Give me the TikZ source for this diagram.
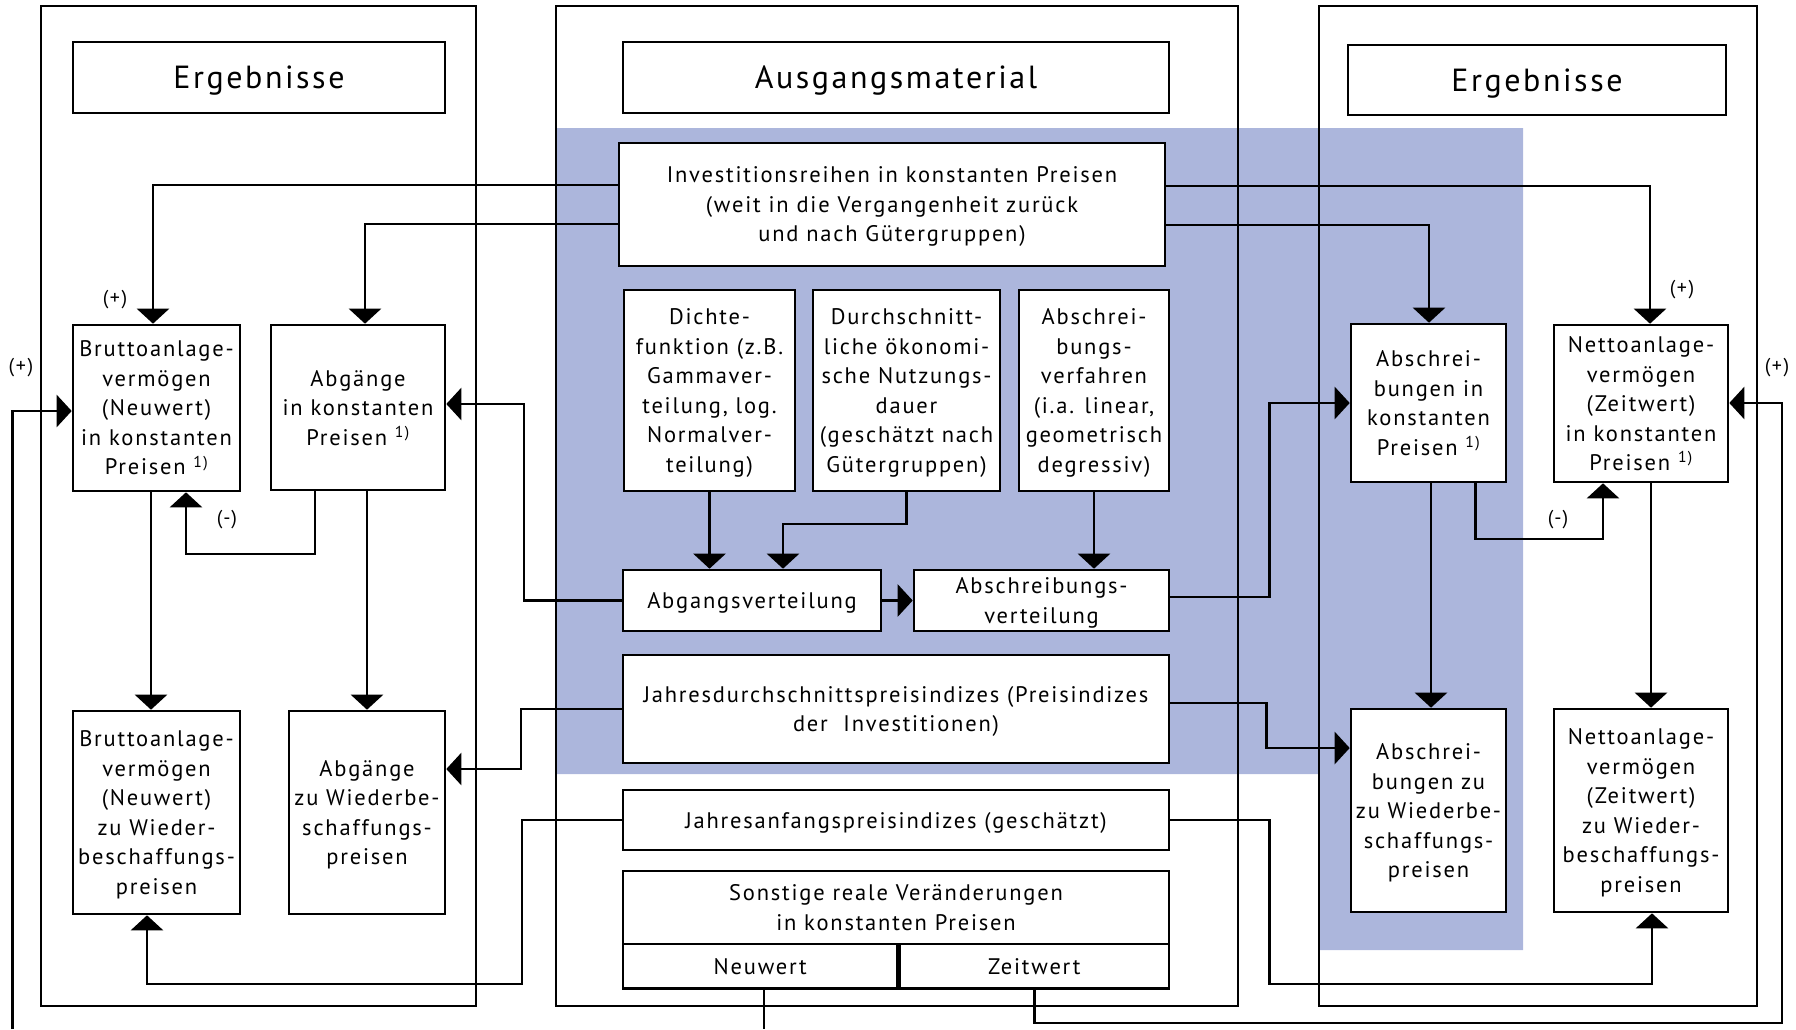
\documentclass[tikz,border=0pt]{standalone}
\usepackage{fontspec}
\setmainfont{PT Sans}[LetterSpace=8]
\usetikzlibrary{arrows.meta}
\definecolor{hatchblue}{RGB}{172,182,220}
\pgfdeclarelayer{bg}
\pgfdeclarelayer{conn}
\pgfsetlayers{bg,conn,main}
\begin{document}
\begin{tikzpicture}[x=1pt,y=-1pt,
  bx/.style={draw, line width=2.6pt, fill=white, align=center, inner sep=0pt, text depth=0pt, font=\fontsize{22.5}{29.5}\selectfont},
  ttl/.style={bx, font=\fontsize{32}{38}\selectfont},
  panel/.style={draw, line width=2.6pt, inner sep=0pt},
  con/.style={line width=2.6pt},
  arr/.style={con, -{Triangle[length=15pt,width=32pt]}},
  lbl/.style={font=\fontsize{20}{24}\selectfont, inner sep=0pt}
]
\useasboundingbox (0,0) rectangle (1796,1029);

% boxes
\node[ttl, minimum width=372, minimum height=71] (tl) at (259,77.5) {Ergebnisse};
\node[ttl, minimum width=546, minimum height=71] (tm) at (896,77.5) {Ausgangsmaterial};
\node[ttl, minimum width=378, minimum height=70] (tr) at (1537,80) {Ergebnisse};

\node[bx, minimum width=546, minimum height=123] (inv) at (892,204.5) {Investitionsreihen in konstanten Preisen\\(weit in die Vergangenheit zurück\\und nach Gütergruppen)};
\node[bx, minimum width=171, minimum height=201] (di) at (709.5,390.5) {Dichte-\\funktion (z.B.\\Gammaver-\\teilung, log.\\Normalver-\\teilung)};
\node[bx, minimum width=187, minimum height=201] (du) at (906.5,390.5) {Durchschnitt-\\liche ökonomi-\\sche Nutzungs-\\dauer\\(geschätzt nach\\Gütergruppen)};
\node[bx, minimum width=150, minimum height=201] (ab) at (1094,390.5) {Abschrei-\\bungs-\\verfahren\\(i.a. linear,\\geometrisch\\degressiv)};
\node[bx, minimum width=258, minimum height=61] (av) at (752,600.5) {Abgangsverteilung};
\node[bx, minimum width=255, minimum height=61] (asv) at (1041.5,600.5) {Abschreibungs-\\verteilung};
\node[bx, minimum width=546, minimum height=108] (jd) at (896,709) {Jahresdurchschnittspreisindizes (Preisindizes\\der\ \ Investitionen)};
\node[bx, minimum width=546, minimum height=60] (ja) at (896,820) {Jahresanfangspreisindizes (geschätzt)};
\node[bx, minimum width=546, minimum height=73] (so) at (896,907.5) {Sonstige reale Veränderungen\\in konstanten Preisen};
\node[bx, minimum width=274.5, minimum height=44.6] (nwb) at (760.25,966.3) {Neuwert};
\node[bx, minimum width=269.5, minimum height=44.6] (zwb) at (1034.25,966.3) {Zeitwert};

\node[bx, minimum width=167, minimum height=166] (bk) at (156.5,408) {Bruttoanlage-\\vermögen\\(Neuwert)\\in konstanten\\Preisen \textsuperscript{1)}};
\node[bx, minimum width=174, minimum height=165] (ak) at (358,407.5) {Abgänge\\in konstanten\\Preisen \textsuperscript{1)}};
\node[bx, minimum width=167, minimum height=203] (bw) at (156.5,812.5) {Bruttoanlage-\\vermögen\\(Neuwert)\\zu Wieder-\\beschaffungs-\\preisen};
\node[bx, minimum width=156, minimum height=203] (aw) at (367,812.5) {Abgänge\\zu Wiederbe-\\schaffungs-\\preisen};

\node[bx, minimum width=155, minimum height=158] (abk) at (1428.5,403) {Abschrei-\\bungen in\\konstanten\\Preisen \textsuperscript{1)}};
\node[bx, minimum width=174, minimum height=157] (nk) at (1641,403.5) {Nettoanlage-\\vermögen\\(Zeitwert)\\in konstanten\\Preisen \textsuperscript{1)}};
\node[bx, minimum width=155, minimum height=203] (abw) at (1428.5,810.5) {Abschrei-\\bungen zu\\zu Wiederbe-\\schaffungs-\\preisen};
\node[bx, minimum width=174, minimum height=203] (nwz) at (1641,810.5) {Nettoanlage-\\vermögen\\(Zeitwert)\\zu Wieder-\\beschaffungs-\\preisen};

% labels
\node[lbl] (p1) at (115,300) {(+)};
\node[lbl] (p2) at (21,368) {(+)};
\node[lbl] (p3) at (1682,290) {(+)};
\node[lbl] (p4) at (1777,368) {(+)};
\node[lbl] (m1) at (227,520) {(-)};
\node[lbl] (m2) at (1558,520) {(-)};

\begin{pgfonlayer}{bg}
\fill[hatchblue] (556,128) -- (1523,128) -- (1523,950) -- (1318,950) -- (1318,774) -- (556,774) -- cycle;
\node[panel, minimum width=435, minimum height=1000] (pl) at (258.5,506) {};
\node[panel, minimum width=682, minimum height=1000] (pm) at (897,506) {};
\node[panel, minimum width=438, minimum height=1000] (pr) at (1538,506) {};
\end{pgfonlayer}

\begin{pgfonlayer}{conn}
\draw[arr] (inv.west |- 0,185) -| (153,0 |- bk.north);
\draw[arr] (inv.west |- 0,224) -| (365,0 |- ak.north);
\draw[arr] (inv.east |- 0,186) -| (1650,0 |- nk.north);
\draw[arr] (inv.east |- 0,225) -| (1429,0 |- abk.north);
\draw[arr] (di.south) -- (di.south |- av.north);
\draw[arr] (du.south) -- (du.south |- 0,524) -| (783,0 |- av.north);
\draw[arr] (ab.south) -- (ab.south |- asv.north);
\draw[arr] (av.east) -- (asv.west);
\draw[arr] (av.west) -- (524,0 |- av.west) |- (ak.east |- 0,404);
\draw[arr] (jd.west) -- (521,0 |- jd.west) |- (aw.east |- 0,769);
\draw[arr] (ja.west) -| (522,984) -| (147,0 |- bw.south);
\draw[arr] (151,0 |- bk.south) -- (151,0 |- bw.north);
\draw[arr] (367,0 |- ak.south) -- (367,0 |- aw.north);
\draw[arr] (315,0 |- ak.south) |- (186,554) -- (186,0 |- bk.south);
\coordinate (lfree) at (12.6,1029);
\draw[arr] (lfree) |- (bk.west |- 0,411);
\coordinate (nfree) at (764,1029);
\draw[con] (764,0 |- nwb.south) -- (nfree);
\draw[arr] (asv.east |- 0,597) -| (1269.5,403) -- (abk.west |- 0,403);
\draw[arr] (jd.east |- 0,703) -| (1266.5,748) -- (abw.west |- 0,748);
\draw[arr] (ja.east) -| (1269.5,984) -| (1652,0 |- nwz.south);
\draw[arr] (1431,0 |- abk.south) -- (1431,0 |- abw.north);
\draw[arr] (1475.5,0 |- abk.south) |- (1603,539) -- (1603,0 |- nk.south);
\draw[arr] (1651,0 |- nk.south) -- (1651,0 |- nwz.north);
\draw[arr] (zwb.south) |- (1782,1023) |- (nk.east |- 0,403);
\end{pgfonlayer}
\end{tikzpicture}
\end{document}
